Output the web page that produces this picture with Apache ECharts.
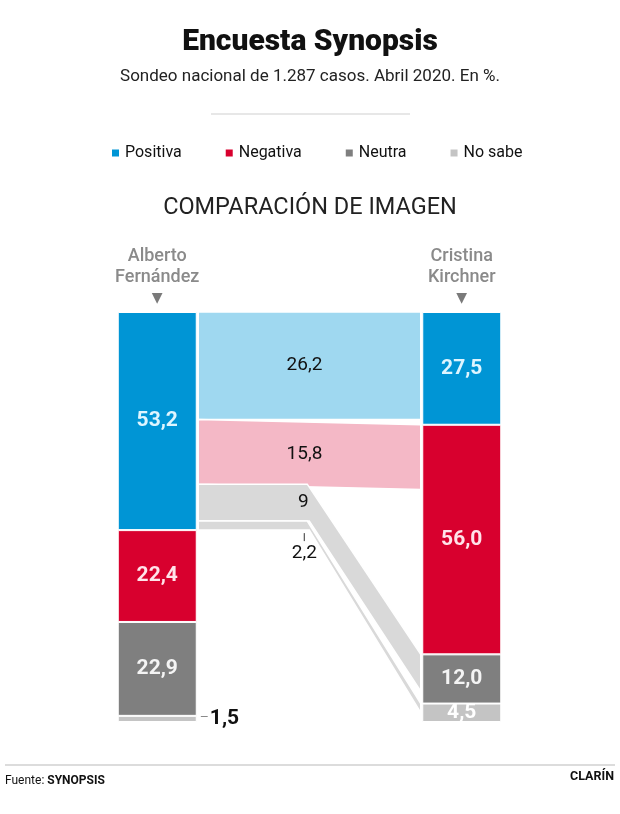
<!DOCTYPE html>
<html>
<head>
<meta charset="utf-8">
<script src="https://cdn.jsdelivr.net/npm/echarts@6/dist/echarts.min.js"></script>
<style>
html,body{margin:0;padding:0;background:#fff;}
#chart{width:620px;height:814px;}
</style>
</head>
<body>
<div id="chart"></div>
<script>
// ---- data ----
const candidates = ['Alberto Fernández', 'Cristina Kirchner'];
const categories = ['Positiva', 'Negativa', 'Neutra', 'No sabe'];
const positiva = [53.2, 27.5];
const negativa = [22.4, 56.0];
const neutra   = [22.9, 12.0];
const noSabe   = [1.5, 4.5];
// how Alberto Fernández's "Positiva" group rates Cristina Kirchner
const flowValues = [26.2, 15.8, 9, 2.2];

// ---- styles ----
const barColors = ['#0095d5', '#d8002e', '#7f7f7f', '#c4c4c4'];
const labelColors = ['#def5ff', '#ffe3ea', '#f4f4f4', '#ffffff'];
const bandColors = ['#9fd8f0', '#f4b8c6', '#d9d9d9', '#d9d9d9'];
const FONT = 'Roboto, "Noto Sans", sans-serif';
const BAR_W = 79;

const seriesValues = [positiva, negativa, neutra, noSabe];
const fmtBar = v => v.toFixed(1).replace('.', ',');
const fmtBand = v => String(v).replace('.', ',');

// band geometry in data units (left stacked within AF Positiva, right at CK category start)
const ckStarts = [];
{
  let acc = 0;
  seriesValues.forEach(arr => { ckStarts.push(acc); acc += arr[1]; });
}
const bandData = [];
{
  let acc = 0;
  flowValues.forEach((v, i) => {
    bandData.push([i, acc, acc + v, ckStarts[i], ckStarts[i] + v, v]);
    acc += v;
  });
}

const barSeries = categories.map((name, si) => ({
  name: name,
  type: 'bar',
  stack: 'total',
  barWidth: BAR_W,
  z: 3,
  itemStyle: { color: barColors[si], borderColor: '#fff', borderWidth: 1 },
  data: seriesValues[si].map(v => {
    const small = v < 3;
    return {
      value: v,
      label: small ? {
        show: true, position: 'right', distance: 3,
        formatter: p => '{d|–}{v|' + fmtBar(p.value) + '}',
        rich: {
          d: { fontFamily: FONT, fontSize: 14, color: '#666', fontWeight: 300, padding: [0, 1, 0, 0] },
          v: { fontFamily: FONT, fontSize: 21, color: '#111', fontWeight: 'bold' }
        }
      } : {
        show: true, position: 'inside',
        formatter: p => fmtBar(p.value),
        fontFamily: FONT, fontSize: 21, fontWeight: 'bold', color: labelColors[si]
      }
    };
  })
}));

const bandSeries = {
  type: 'custom',
  name: 'flujo',
  coordinateSystem: 'cartesian2d',
  z: 2,
  silent: true,
  encode: { x: -1, y: [1, 2] },
  data: bandData,
  renderItem: function (params, api) {
    const i = api.value(0);
    const l0 = api.value(1), l1 = api.value(2), r0 = api.value(3), r1 = api.value(4);
    const v = api.value(5);
    const xL = api.coord([0, 0])[0] + BAR_W / 2 + 1.5;
    const xR = api.coord([1, 0])[0] - BAR_W / 2 - 1.5;
    const yl0 = api.coord([0, l0])[1], yl1 = api.coord([0, l1])[1];
    const yr0 = api.coord([1, r0])[1], yr1 = api.coord([1, r1])[1];
    const bent = Math.abs(r0 - l0) > 10;
    const xB = xL + (xR - xL) * 0.49;
    let pts;
    if (bent) {
      pts = [[xL, yl0], [xB, yl0], [xR, yr0], [xR, yr1], [xB + 2, yl1], [xL, yl1]];
    } else {
      pts = [[xL, yl0], [xR, yr0], [xR, yr1], [xL, yl1]];
    }
    const children = [{
      type: 'polygon',
      shape: { points: pts },
      style: { fill: bandColors[i], stroke: '#fff', lineWidth: 1.5 }
    }];
    const txtStyle = { fontFamily: FONT, fontSize: 19, fill: '#111', align: 'center', verticalAlign: 'middle' };
    if (!bent) {
      children.push({ type: 'text', style: Object.assign({ text: fmtBand(v), x: (xL + xR) / 2 - 5, y: (yl0 + yl1 + yr0 + yr1) / 4 }, txtStyle) });
    } else if (v >= 5) {
      children.push({ type: 'text', style: Object.assign({ text: fmtBand(v), x: xB - 4, y: (yl0 + yl1) / 2 }, txtStyle) });
    } else {
      children.push({ type: 'line', shape: { x1: xB - 3, y1: yl1 + 3, x2: xB - 3, y2: yl1 + 11 }, style: { stroke: '#333', lineWidth: 1 } });
      children.push({ type: 'text', style: Object.assign({ text: fmtBand(v), x: xB - 3, y: yl1 + 23 }, txtStyle) });
    }
    return { type: 'group', children: children };
  }
};

const chart = echarts.init(document.getElementById('chart'), null, { renderer: 'canvas' });
chart.setOption({
  animation: false,
  backgroundColor: '#fff',
  title: [
    { text: 'Encuesta Synopsis', left: 'center', top: 27, padding: 0,
      textStyle: { fontFamily: FONT, fontSize: 30, fontWeight: 900, color: '#111' } },
    { text: 'Sondeo nacional de 1.287 casos. Abril 2020. En %.', left: 'center', top: 68, padding: 0,
      textStyle: { fontFamily: FONT, fontSize: 17, fontWeight: 400, color: '#222' } },
    { text: 'COMPARACIÓN DE IMAGEN', left: 'center', top: 196, padding: 0,
      textStyle: { fontFamily: FONT, fontSize: 23.5, fontWeight: 400, color: '#222' } },
    { text: 'Fuente: {b|SYNOPSIS}', left: 5, top: 775, padding: 0,
      textStyle: { fontFamily: FONT, fontSize: 12, fontWeight: 400, color: '#111',
        rich: { b: { fontFamily: FONT, fontSize: 12, fontWeight: 'bold', color: '#111' } } } },
    { text: 'CLARÍN', right: 6, top: 770, padding: 0,
      textStyle: { fontFamily: FONT, fontSize: 12.5, fontWeight: 'bold', color: '#111' } }
  ],
  legend: {
    data: categories,
    left: 110, top: 145, padding: 0,
    itemWidth: 9, itemHeight: 9, itemGap: 42,
    icon: 'rect',
    textStyle: { fontFamily: FONT, fontSize: 16, color: '#111' }
  },
  graphic: [
    { type: 'line', shape: { x1: 211, y1: 114, x2: 410, y2: 114 }, style: { stroke: '#cfcfcf', lineWidth: 1 } },
    { type: 'line', shape: { x1: 5, y1: 765, x2: 615, y2: 765 }, style: { stroke: '#dcdcdc', lineWidth: 2 } }
  ],
  grid: { left: 5, right: 6, top: 312, bottom: 92, containLabel: false },
  xAxis: {
    type: 'category',
    data: candidates,
    position: 'top',
    axisLine: { show: false }, axisTick: { show: false },
    axisLabel: {
      margin: 4,
      formatter: name => name.split(' ').map(s => '{n|' + s + '}').join('\n') + '\n{t|▼}',
      rich: {
        n: { fontFamily: FONT, fontSize: 18, lineHeight: 21, fontWeight: 500, color: '#8a8a8a', align: 'center' },
        t: { fontFamily: '"DejaVu Sans"', fontSize: 14, lineHeight: 20, color: '#7a7a7a', align: 'center' }
      }
    }
  },
  yAxis: { type: 'value', min: 0, max: 100, inverse: true, show: false },
  series: [bandSeries].concat(barSeries)
});
</script>
</body>
</html>
